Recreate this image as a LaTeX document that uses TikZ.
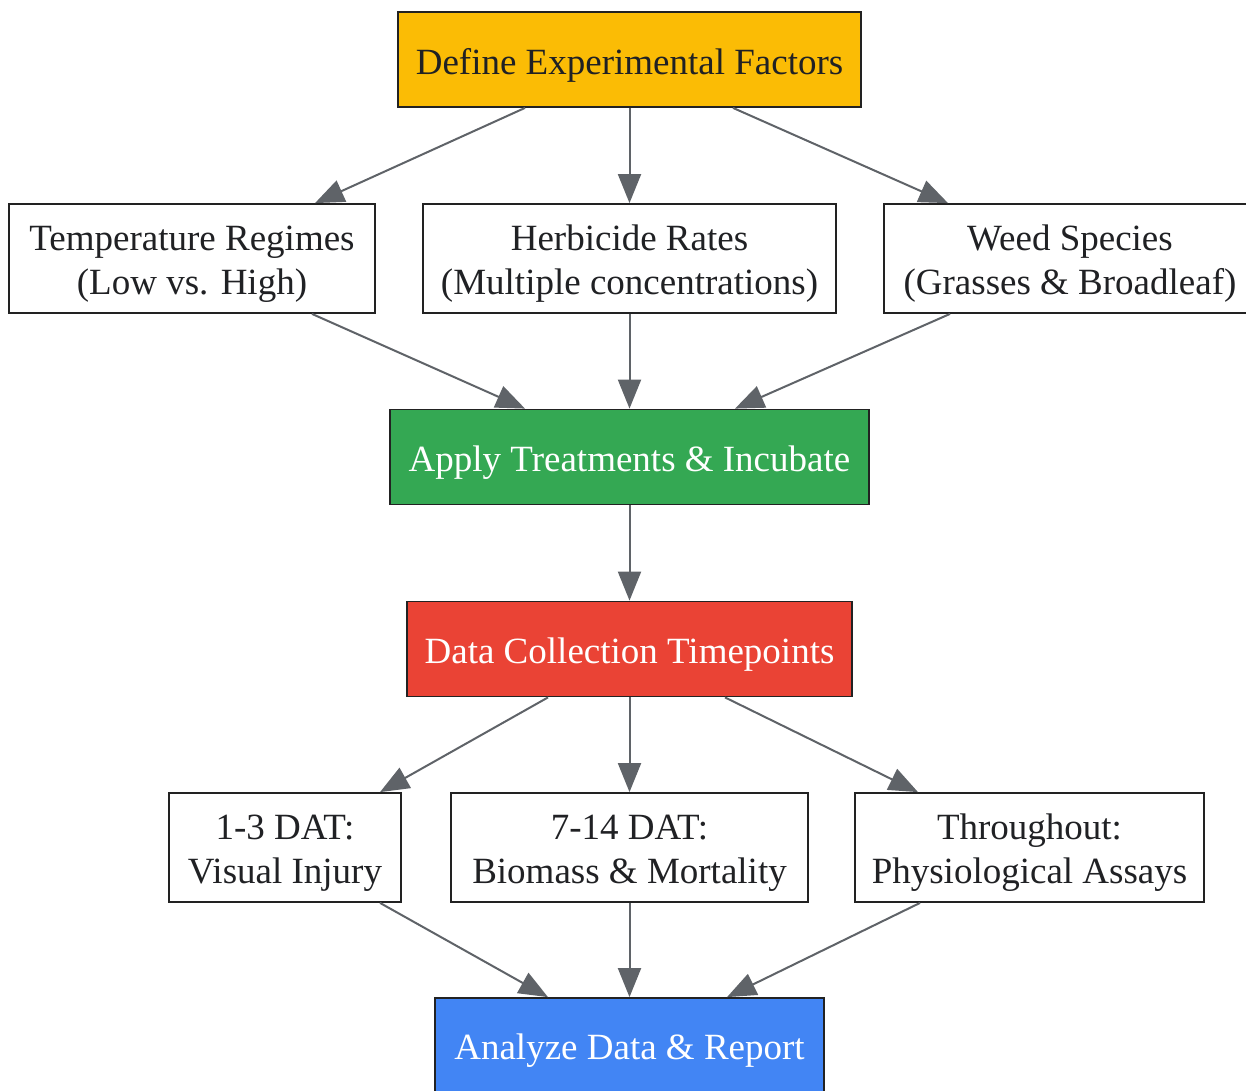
\documentclass[tikz,border=0pt]{standalone}
\usepackage{fontspec}
\setmainfont{Liberation Serif}
\usetikzlibrary{arrows.meta,calc}
\definecolor{cOrange}{HTML}{FBBC05}
\definecolor{cGreen}{HTML}{34A853}
\definecolor{cRed}{HTML}{EA4335}
\definecolor{cBlue}{HTML}{4285F4}
\definecolor{cEdge}{HTML}{5F6368}
\definecolor{cText}{HTML}{202124}
\definecolor{cBorder}{HTML}{222222}
\begin{document}
\begin{tikzpicture}[x=1pt,y=-1pt,
  box/.style={draw=cBorder, line width=1.8pt, rectangle, inner sep=0pt,
    fill=white, minimum height=109pt},
  wide/.style={minimum height=95pt},
  txt/.style={align=center, inner sep=0pt, font=\fontsize{37}{44}\selectfont, text=cText, yshift=-5.5pt},
  wtxt/.style={txt, text=white},
  conn/.style={draw=cEdge, line width=2pt, -{Triangle[length=29pt,width=23pt]}}]
\useasboundingbox (0,0) rectangle (1246,1090);
\clip (0,0) rectangle (1246,1090);
\node[box, wide, fill=cOrange, minimum width=463pt, label={[txt]center:Define Experimental Factors}] (def) at (629.5,59.5) {};
\node[box, minimum width=366pt, label={[txt]center:Temperature Regimes\\(Low vs. High)}] (temp) at (192,258.5) {};
\node[box, minimum width=413pt, label={[txt]center:Herbicide Rates\\(Multiple concentrations)}] (herb) at (629.5,258.5) {};
\node[box, minimum width=372pt, label={[txt]center:Weed Species\\(Grasses \& Broadleaf)}] (weed) at (1070,258.5) {};
\node[box, wide, fill=cGreen, minimum width=479pt, label={[wtxt]center:Apply Treatments \& Incubate}] (apply) at (629.5,457) {};
\node[box, wide, fill=cRed, minimum width=445pt, label={[wtxt]center:Data Collection Timepoints}] (data) at (629.5,649) {};
\node[box, minimum width=232pt, label={[txt]center:1-3 DAT:\\Visual Injury}] (d13) at (285,847.5) {};
\node[box, minimum width=357pt, label={[txt]center:7-14 DAT:\\Biomass \& Mortality}] (d714) at (629.5,847.5) {};
\node[box, minimum width=349pt, label={[txt]center:Throughout:\\Physiological Assays}] (thr) at (1029.5,847.5) {};
\node[box, wide, fill=cBlue, minimum width=389pt, label={[wtxt]center:Analyze Data \& Report}] (ana) at (629.5,1045.5) {};
\draw[conn] ($(def.south)+(-104.5,0)$) -- ($(temp.north)+(123,0)$);
\draw[conn] (def.south) -- (herb.north);
\draw[conn] ($(def.south)+(103.5,0)$) -- ($(weed.north)+(-122,0)$);
\draw[conn] ($(temp.south)+(120,0)$) -- ($(apply.north)+(-104.5,0)$);
\draw[conn] (herb.south) -- (apply.north);
\draw[conn] ($(weed.south)+(-120,0)$) -- ($(apply.north)+(105.5,0)$);
\draw[conn] (apply.south) -- (data.north);
\draw[conn] ($(data.south)+(-81.5,0)$) -- ($(d13.north)+(95,0)$);
\draw[conn] (data.south) -- (d714.north);
\draw[conn] ($(data.south)+(95.5,0)$) -- ($(thr.north)+(-111.5,0)$);
\draw[conn] ($(d13.south)+(95,0)$) -- ($(ana.north)+(-81.5,0)$);
\draw[conn] (d714.south) -- (ana.north);
\draw[conn] ($(thr.south)+(-109.5,0)$) -- ($(ana.north)+(97.5,0)$);
\end{tikzpicture}
\end{document}
